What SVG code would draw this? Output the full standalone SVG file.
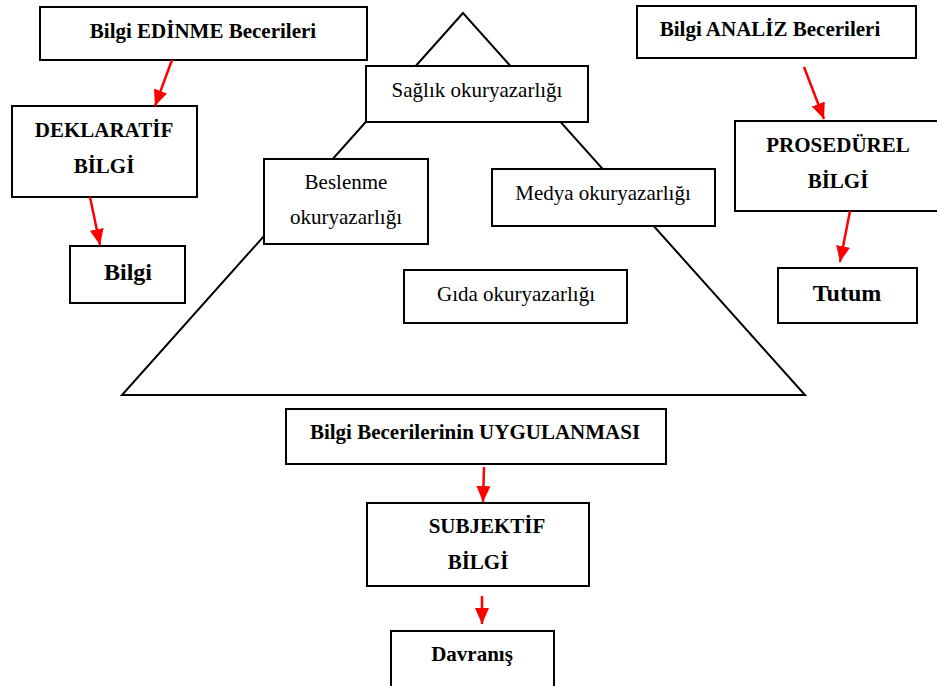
<svg xmlns="http://www.w3.org/2000/svg" width="937" height="686" viewBox="0 0 937 686">
<defs>
<style>
.box{fill:#fff;stroke:#000;stroke-width:2}
.tri{fill:#fff;stroke:#000;stroke-width:2}
.t{font-family:"Liberation Serif","Times New Roman",serif;font-size:21px;fill:#000;text-anchor:middle}
.b{font-weight:bold}
.big{font-size:24px}
.arr{stroke:#ff0000;stroke-width:2.5;fill:none;marker-end:url(#ah)}
</style>
<marker id="ah" viewBox="0 0 16 14" refX="16" refY="7" markerWidth="16" markerHeight="14" markerUnits="userSpaceOnUse" orient="auto">
<path d="M0,0 L16,7 L0,14 z" fill="#ff0000"/>
</marker>
</defs>
<rect width="937" height="686" fill="#fff"/>
<g id="pyramid">
<polygon class="tri" points="463,13 122,395 805,395"/>
</g>
<g id="n-edinme"><rect class="box" x="40" y="7" width="327" height="53"/><text class="t b" x="203" y="38">Bilgi EDİNME Becerileri</text></g>
<g id="n-deklaratif"><rect class="box" x="12" y="106" width="185" height="91"/><text class="t b" x="104" y="137">DEKLARATİF</text><text class="t b" x="104" y="173">BİLGİ</text></g>
<g id="n-bilgi"><rect class="box" x="70" y="246" width="115" height="57"/><text class="t b big" x="128" y="280">Bilgi</text></g>
<g id="n-saglik"><rect class="box" x="366" y="66" width="222" height="56"/><text class="t" x="477" y="97">Sağlık okuryazarlığı</text></g>
<g id="n-beslenme"><rect class="box" x="264" y="159" width="164" height="85"/><text class="t" x="346" y="189">Beslenme</text><text class="t" x="346" y="224">okuryazarlığı</text></g>
<g id="n-medya"><rect class="box" x="492" y="169" width="223" height="57"/><text class="t" x="603" y="200">Medya okuryazarlığı</text></g>
<g id="n-gida"><rect class="box" x="404" y="270" width="223" height="53"/><text class="t" x="516" y="301">Gıda okuryazarlığı</text></g>
<g id="n-analiz"><rect class="box" x="637" y="6" width="279" height="52"/><text class="t b" x="770" y="36">Bilgi ANALİZ Becerileri</text></g>
<g id="n-prosedurel"><rect class="box" x="735" y="121" width="210" height="90"/><text class="t b" x="838" y="152">PROSEDÜREL</text><text class="t b" x="838" y="188">BİLGİ</text></g>
<g id="n-tutum"><rect class="box" x="778" y="268" width="139" height="55"/><text class="t b big" x="847" y="301">Tutum</text></g>
<g id="n-uygulanmasi"><rect class="box" x="286" y="409" width="380" height="55"/><text class="t b" x="475" y="439">Bilgi Becerilerinin UYGULANMASI</text></g>
<g id="n-subjektif"><rect class="box" x="367" y="503" width="222" height="83"/><text class="t b" x="487" y="533">SUBJEKTİF</text><text class="t b" x="478" y="569">BİLGİ</text></g>
<g id="n-davranis"><rect class="box" x="391" y="631" width="163" height="70"/><text class="t b" x="472" y="661">Davranış</text></g>
<g id="connectors">
<line class="arr" x1="172" y1="60" x2="155" y2="106"/>
<line class="arr" x1="90" y1="197" x2="100" y2="245"/>
<line class="arr" x1="804" y1="67" x2="824" y2="119"/>
<line class="arr" x1="850" y1="211" x2="840" y2="262"/>
<line class="arr" x1="484" y1="467" x2="483" y2="502"/>
<line class="arr" x1="482" y1="596" x2="482" y2="624"/>
</g>
</svg>
